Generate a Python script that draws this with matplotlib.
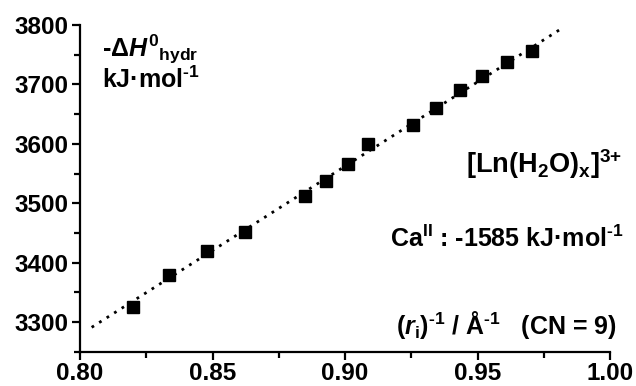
import matplotlib
matplotlib.use("Agg")
import matplotlib.pyplot as plt
from matplotlib.ticker import MultipleLocator

plt.rcParams['font.family'] = ['Liberation Sans', 'DejaVu Sans']
plt.rcParams['font.weight'] = 'bold'
plt.rcParams['mathtext.fontset'] = 'custom'
plt.rcParams['mathtext.rm'] = 'Liberation Sans:bold'
plt.rcParams['mathtext.it'] = 'Liberation Sans:bold:italic'
plt.rcParams['mathtext.bf'] = 'Liberation Sans:bold'
plt.rcParams['mathtext.sf'] = 'Liberation Sans:bold'

# data: inverse ionic radius (1/Å) vs -ΔH0 hydr (kJ/mol)
inv_r = [0.8201, 0.8337, 0.8478, 0.8623, 0.8849, 0.8928, 0.9010,
         0.9088, 0.9258, 0.9342, 0.9434, 0.9518, 0.9612, 0.9707]
dH = [3325, 3379, 3420, 3452, 3512, 3537, 3566,
      3599, 3632, 3661, 3690, 3714, 3737, 3756]
fit_x = [0.8044, 0.9824]
fit_y = [3291, 3796]

x_ticks = [0.80, 0.85, 0.90, 0.95, 1.00]
x_ticklabels = ['0.80', '0.85', '0.90', '0.95', '1.00']
y_ticks = [3300, 3400, 3500, 3600, 3700, 3800]

W, H = 636, 386
fig = plt.figure(figsize=(W / 100, H / 100), dpi=100)
ax = fig.add_axes([80/W, 1-351.7/H, 530/W, (351.7-25)/H])

ax.plot(fit_x, fit_y, color='black', linestyle=(0, (1, 2.2)), linewidth=2.0)
ax.plot(inv_r, dH, linestyle='none', marker='s', markersize=8.8, color='black')

ax.set_xlim(0.80, 1.00)
ax.set_ylim(3250, 3800)
ax.set_xticks(x_ticks)
ax.set_xticklabels(x_ticklabels)
ax.set_yticks(y_ticks)
ax.xaxis.set_minor_locator(MultipleLocator(0.025))
ax.yaxis.set_minor_locator(MultipleLocator(50))

for s in ['top', 'right']:
    ax.spines[s].set_visible(False)
for s in ['left', 'bottom']:
    ax.spines[s].set_linewidth(1.6)

ax.tick_params(which='major', direction='out', length=6, width=1.6,
               labelsize=17.5)
ax.tick_params(axis='x', which='major', pad=1.5)
ax.tick_params(axis='y', which='major', pad=2)
ax.tick_params(which='minor', direction='out', length=4, width=1.6)
for lab in ax.get_xticklabels() + ax.get_yticklabels():
    lab.set_fontweight('bold')


def px(x, y):
    return x / W, 1 - y / H


fs = 18
hy = '\u2010'
fig.text(*px(102, 57), r'-$\Delta\mathit{H}^{0}{}_{\mathrm{hydr}}$',
         fontsize=fs, fontweight='bold', va='baseline', ha='left')
fig.text(*px(102, 88), r'kJ·mol$^{\mathrm{' + hy + '1}}$',
         fontsize=fs, fontweight='bold', va='baseline', ha='left')
fig.text(*px(622, 173), r'[Ln(H$_{\mathrm{2}}$O)$_{\mathrm{x}}$]$^{\mathrm{3{+}}}$',
         fontsize=fs + 1.5, fontweight='bold', va='baseline', ha='right')
fig.text(*px(624, 247), r'Ca$^{\mathrm{II}}$ : -1585 kJ·mol$^{\mathrm{' + hy + '1}}$',
         fontsize=fs, fontweight='bold', va='baseline', ha='right')
fig.text(*px(617, 334), r'($\mathit{r}_{\mathrm{i}}$)$^{\mathrm{' + hy + '1}}$ / Å$^{\mathrm{' + hy + '1}}$   (CN = 9)',
         fontsize=fs, fontweight='bold', va='baseline', ha='right')

fig.savefig('out.png', dpi=100)
